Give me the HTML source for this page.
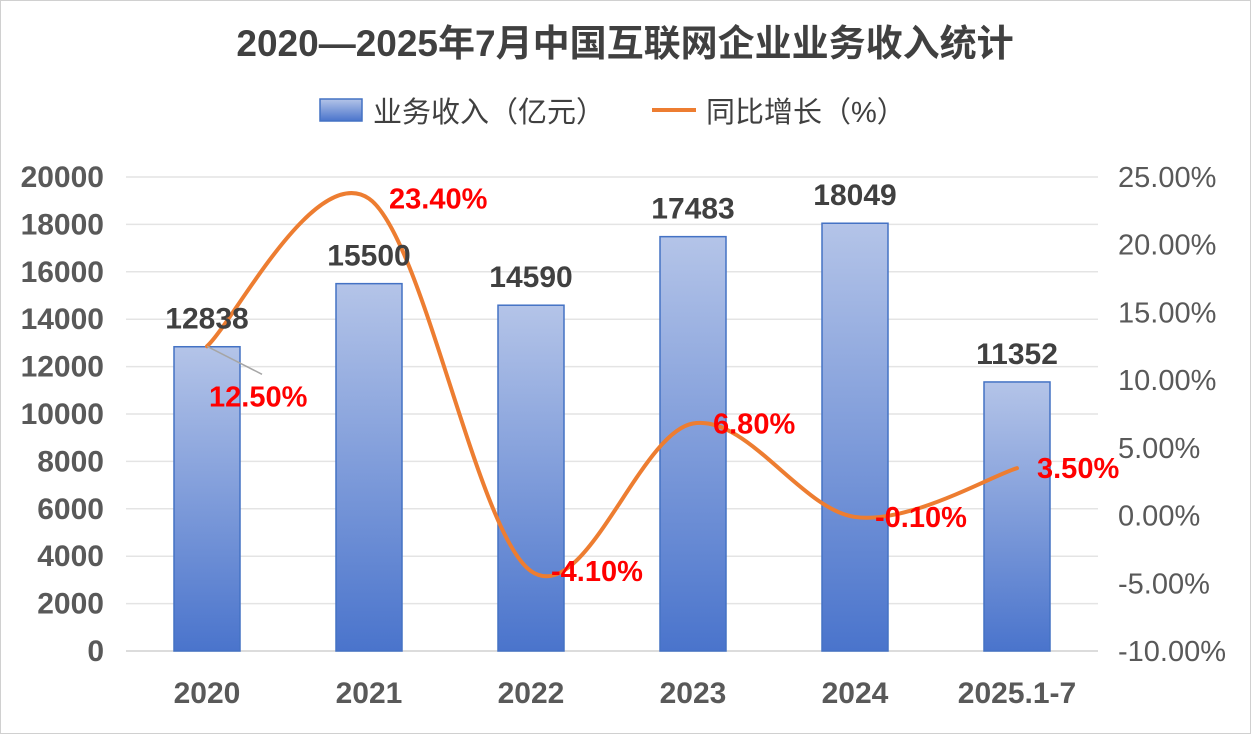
<!DOCTYPE html>
<html><head><meta charset="utf-8">
<style>
body{margin:0;background:#fff;}
svg text{font-family:"Liberation Sans","Noto Sans CJK SC",sans-serif;}
</style></head>
<body>
<svg id="chart" width="1251" height="734" viewBox="0 0 1251 734" xmlns="http://www.w3.org/2000/svg">
<defs>
<linearGradient id="barGrad" x1="0" y1="0" x2="0" y2="1">
<stop offset="0" stop-color="#b4c4e8"/><stop offset="1" stop-color="#4a74cc"/>
</linearGradient>
<linearGradient id="legGrad" x1="0" y1="0" x2="0" y2="1">
<stop offset="0" stop-color="#b4c4e8"/><stop offset="1" stop-color="#4a74cc"/>
</linearGradient>
</defs>
<rect x="0.5" y="0.5" width="1250" height="733" fill="#fff" stroke="#d0d0d0"/>
<text x="625" y="56" text-anchor="middle" font-size="37" font-weight="bold" fill="#404040">2020—2025年7月中国互联网企业业务收入统计</text>
<g>
<rect x="320" y="99" width="42" height="22" fill="url(#legGrad)" stroke="#4472c4" stroke-width="1.5"/>
<text x="373" y="122" font-size="29" fill="#404040">业务收入（亿元）</text>
<line x1="652" y1="110" x2="696" y2="110" stroke="#ed7d31" stroke-width="4"/>
<text x="706" y="122" font-size="29" fill="#404040">同比增长（%）</text>
</g>
<g id="grid"></g><g id="axes"></g><g id="bars"></g><g id="line"></g><g id="labels"></g>
</svg>
<script>
const categories=["2020","2021","2022","2023","2024","2025.1-7"];
const revenue=[12838,15500,14590,17483,18049,11352];
const growth=[12.5,23.4,-4.1,6.8,-0.1,3.5];
const leftTicks=[0,2000,4000,6000,8000,10000,12000,14000,16000,18000,20000];
const rightTicks=[-10,-5,0,5,10,15,20,25];

const NS="http://www.w3.org/2000/svg";
const yTop=177,yBottom=651,x0=126,step=162;
const yL=v=>yBottom-(v-0)/20000*(yBottom-yTop);
const yR=v=>yBottom-(v+10)/35*(yBottom-yTop);
const xC=i=>x0+step*(i+0.5);
function mk(tag,attrs,parent,txt){const e=document.createElementNS(NS,tag);for(const k in attrs)e.setAttribute(k,attrs[k]);if(txt!==undefined)e.textContent=txt;document.getElementById(parent).appendChild(e);return e;}

leftTicks.forEach(t=>{
  const g=mk('line',{x1:x0,x2:x0+step*6,y1:yL(t),y2:yL(t),stroke:t===0?'#d0d0d0':'#e4e4e4','stroke-width':1.5},'grid');
  
  
  const l=mk('text',{x:104,y:yL(t)+10,'text-anchor':'end','font-size':30,'font-weight':'bold',fill:'#595959'},'axes',String(t));
  
  
});
rightTicks.forEach(t=>{
  const l=mk('text',{x:1118,y:yR(t)+10,'font-size':29,fill:'#595959'},'axes',t.toFixed(2)+'%');
  
  
});
categories.forEach((c,i)=>{
  const l=mk('text',{x:xC(i),y:703,'text-anchor':'middle','font-size':30,'font-weight':'bold',fill:'#595959'},'axes',c);
  
  
  const b=mk('rect',{x:xC(i)-33,y:yL(revenue[i]),width:66,height:yBottom-yL(revenue[i]),fill:'url(#barGrad)',stroke:'#4472c4','stroke-width':1.5},'bars');
  
  
  const v=mk('text',{x:xC(i),y:yL(revenue[i])-18,'text-anchor':'middle','font-size':30,'font-weight':'bold',fill:'#404040'},'labels',String(revenue[i]));
  
  
});
const pts=growth.map((g,i)=>[xC(i),yR(g)]);
let d='M'+pts[0][0]+','+pts[0][1];
for(let i=0;i<pts.length-1;i++){
  const p0=pts[i-1]||pts[i],p1=pts[i],p2=pts[i+1],p3=pts[i+2]||p2,k=1/6;
  d+=' C'+(p1[0]+(p2[0]-p0[0])*k)+','+(p1[1]+(p2[1]-p0[1])*k)+' '+(p2[0]-(p3[0]-p1[0])*k)+','+(p2[1]-(p3[1]-p1[1])*k)+' '+p2[0]+','+p2[1];
}
const ln=mk('path',{d:d,fill:'none',stroke:'#ed7d31','stroke-width':4,'stroke-linecap':'round'},'line');


const lead=mk('line',{x1:pts[0][0],y1:pts[0][1],x2:pts[0][0]+55,y2:pts[0][1]+28,stroke:'#a6a6a6','stroke-width':1.5},'line');


growth.forEach((g,i)=>{
  const first=i===0;
  const t=mk('text',{x:pts[i][0]+(first?2:20),y:pts[i][1]+(first?60:10),'font-size':29,'font-weight':'bold',fill:'#ff0000'},'labels',g.toFixed(2)+'%');
  
  
});
</script>
</body></html>
